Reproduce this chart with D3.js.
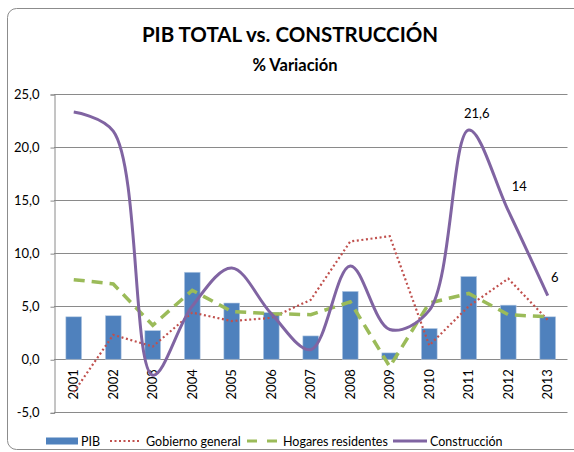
<!DOCTYPE html>
<html>
<head>
<meta charset="utf-8">
<script src="https://cdn.jsdelivr.net/npm/d3@7"></script>
<style>
  body { margin: 0; background: #fff; }
  svg { display: block; font-family: Lato, "Open Sans", sans-serif; }
</style>
</head>
<body>
<div id="chart"></div>
<script>
// data
const years = ["2001","2002","2003","2004","2005","2006","2007","2008","2009","2010","2011","2012","2013"];
const pib = [4.0, 4.1, 2.7, 8.2, 5.3, 4.4, 2.2, 6.4, 0.6, 2.9, 7.8, 5.1, 4.0];
const gobierno = [-3.1, 2.3, 1.2, 4.4, 3.6, 3.9, 5.6, 11.1, 11.6, 1.3, 5.0, 7.6, 3.7];
const hogares = [7.5, 7.1, 3.2, 6.5, 4.5, 4.3, 4.2, 5.4, -0.7, 5.3, 6.2, 4.2, 4.0];
const construccion = [23.3, 21.5, -1.5, 5.0, 8.6, 4.3, 0.9, 8.8, 2.8, 4.6, 21.6, 14, 6];
const yTicks = [-5, 0, 5, 10, 15, 20, 25];
// labels shown on the Construcción line
const labelled = [{ i: 10, text: "21,6", dx: 8, dy: -12 }, { i: 11, text: "14", dx: 11, dy: -20 }, { i: 12, text: "6", dx: 7, dy: -14 }];

const width = 574, height = 452;

const svg = d3.select("#chart")
  .append("svg")
  .attr("width", width)
  .attr("height", height);

// chart border (rounded, runs off the right edge)
svg.append("rect")
  .attr("x", 7.5).attr("y", 8.5)
  .attr("width", 600).attr("height", 441)
  .attr("rx", 9)
  .attr("fill", "#fff")
  .attr("stroke", "#8c8c8c")
  .attr("stroke-width", 1);

// title
svg.append("text")
  .attr("x", 290).attr("y", 42)
  .attr("text-anchor", "middle")
  .attr("font-size", 20.5).attr("font-weight", "bold")
  .text("PIB TOTAL vs. CONSTRUCCIÓN");
svg.append("text")
  .attr("x", 295).attr("y", 70.5)
  .attr("text-anchor", "middle")
  .attr("font-size", 16.5).attr("font-weight", "bold")
  .text("% Variación");

const plotLeft = 54, plotRight = 567.5, plotTop = 94, plotBottom = 412.3;

const x = d3.scaleBand()
  .domain(years)
  .range([plotLeft, plotRight])
  .paddingInner(0.6)
  .paddingOuter(0.3);
const cx = d => x(d) + x.bandwidth() / 2;

const y = d3.scaleLinear()
  .domain([-5, 25])
  .range([plotBottom, plotTop]);

// gridlines
svg.append("g")
  .selectAll("line")
  .data(yTicks)
  .join("line")
  .attr("x1", plotLeft).attr("x2", plotRight)
  .attr("y1", d => Math.round(y(d)) + 0.5)
  .attr("y2", d => Math.round(y(d)) + 0.5)
  .attr("stroke", "#8a8a8a")
  .attr("stroke-width", 1);

// y axis
const yAxis = svg.append("g")
  .attr("transform", `translate(${plotLeft + 0.5},0.5)`)
  .call(d3.axisLeft(y).tickValues(yTicks).tickSize(4).tickPadding(11)
    .tickFormat(d => d3.format(".1f")(d).replace(".", ",").replace("−", "-")));
yAxis.select(".domain").attr("stroke", "#8a8a8a");
yAxis.selectAll(".tick line").attr("stroke", "#8a8a8a");
yAxis.selectAll(".tick text")
  .attr("font-family", "Lato, sans-serif")
  .attr("font-size", 13)
  .attr("fill", "#000");

// bars
svg.append("g")
  .selectAll("rect")
  .data(years)
  .join("rect")
  .attr("x", d => x(d))
  .attr("width", x.bandwidth())
  .attr("y", (d, i) => y(Math.max(0, pib[i])))
  .attr("height", (d, i) => Math.abs(y(pib[i]) - y(0)))
  .attr("fill", "#4f81bd")
  .attr("stroke", "#b9cde5")
  .attr("stroke-width", 0.6);

// x category labels
svg.append("g")
  .selectAll("text")
  .data(years)
  .join("text")
  .attr("transform", d => `translate(${cx(d) + 4.5},${y(0) + 10}) rotate(-90)`)
  .attr("text-anchor", "end")
  .attr("font-size", 13)
  .text(d => d);

const straight = d3.line()
  .x((d, i) => cx(years[i]))
  .y(d => y(d));

svg.append("path")
  .datum(gobierno)
  .attr("d", straight)
  .attr("fill", "none")
  .attr("stroke", "#c0504d")
  .attr("stroke-width", 2.2)
  .attr("stroke-dasharray", "2,2.6");

svg.append("path")
  .datum(hogares)
  .attr("d", straight)
  .attr("fill", "none")
  .attr("stroke", "#9bbb59")
  .attr("stroke-width", 3.5)
  .attr("stroke-dasharray", "11,7");

const smooth = d3.line()
  .x((d, i) => cx(years[i]))
  .y(d => y(d))
  .curve(d3.curveCatmullRom.alpha(0.5));

svg.append("path")
  .datum(construccion)
  .attr("d", smooth)
  .attr("fill", "none")
  .attr("stroke", "#8064a2")
  .attr("stroke-width", 3);

svg.append("g")
  .selectAll("text")
  .data(labelled)
  .join("text")
  .attr("x", d => cx(years[d.i]) + d.dx)
  .attr("y", d => y(construccion[d.i]) + d.dy)
  .attr("text-anchor", "middle")
  .attr("font-size", 13)
  .text(d => d.text);

// legend
const legend = [
  { name: "PIB", type: "bar", x: 46 },
  { name: "Gobierno general", type: "dot", x: 110 },
  { name: "Hogares residentes", type: "dash", x: 247 },
  { name: "Construcción", type: "line", x: 393 }
];
const ly = 441;
const lg = svg.append("g").selectAll("g").data(legend).join("g");
lg.filter(d => d.type === "bar").append("rect")
  .attr("x", d => d.x).attr("y", ly - 3.5)
  .attr("width", 32).attr("height", 7)
  .attr("fill", "#4f81bd");
lg.filter(d => d.type === "dot").append("line")
  .attr("x1", d => d.x).attr("x2", d => d.x + 31)
  .attr("y1", ly).attr("y2", ly)
  .attr("stroke", "#c0504d").attr("stroke-width", 2)
  .attr("stroke-dasharray", "2,2.5");
lg.filter(d => d.type === "dash").append("line")
  .attr("x1", d => d.x).attr("x2", d => d.x + 31)
  .attr("y1", ly).attr("y2", ly)
  .attr("stroke", "#9bbb59").attr("stroke-width", 3)
  .attr("stroke-dasharray", "10,10");
lg.filter(d => d.type === "line").append("line")
  .attr("x1", d => d.x).attr("x2", d => d.x + 34)
  .attr("y1", ly).attr("y2", ly)
  .attr("stroke", "#8064a2").attr("stroke-width", 3);
lg.append("text")
  .attr("x", d => d.x + (d.type === "line" ? 37 : d.type === "bar" ? 35 : 36))
  .attr("y", ly + 4.5)
  .attr("font-size", 12.5)
  .text(d => d.name);
</script>
</body>
</html>
